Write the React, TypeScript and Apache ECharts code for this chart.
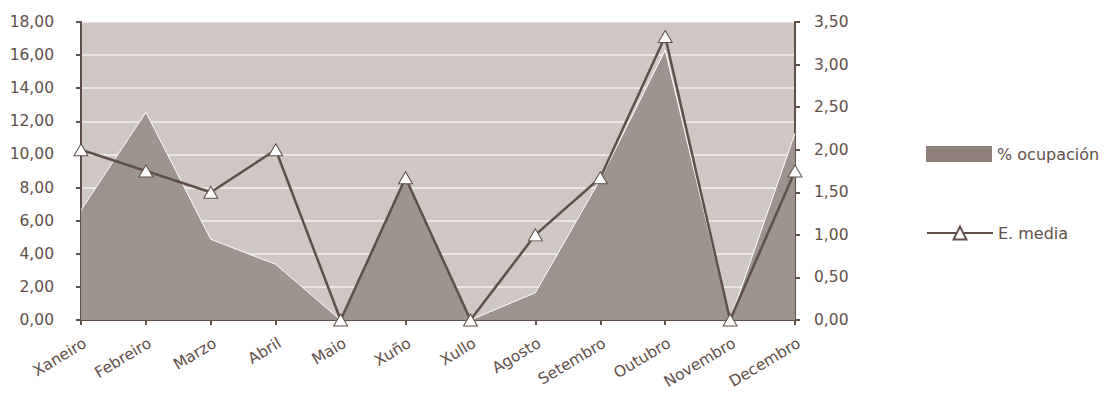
import React, { useEffect, useRef } from "react";
import * as echarts from "echarts";

const months = ["Xaneiro", "Febreiro", "Marzo", "Abril", "Maio", "Xuño", "Xullo", "Agosto", "Setembro", "Outubro", "Novembro", "Decembro"];
const ocupacion = [6.64, 12.55, 4.87, 3.36, 0, 8.6, 0, 1.65, 8.5, 16.3, 0, 11.28];
const media = [2.0, 1.75, 1.5, 2.0, 0, 1.67, 0, 1.0, 1.67, 3.33, 0, 1.75];

const AXIS = "#5f5049";
const TEXT = "#5f5049";
const FONT = "DejaVu Sans";
const fmt = (v: number) => v.toFixed(2).replace(".", ",");

export default function App() {
  const ref = useRef<HTMLDivElement>(null);
  useEffect(() => {
    if (!ref.current) return;
    const chart = echarts.init(ref.current, null, { renderer: "svg" });
    chart.setOption({
      animation: false,
      textStyle: { fontFamily: FONT },
      grid: {
        left: 81, right: 313, top: 22, bottom: 73,
        show: true, backgroundColor: "#cfc7c4", borderWidth: 0,
      },
      legend: [
        {
          data: [{ name: "% ocupación", icon: "rect", itemStyle: { color: "#8e817b", borderWidth: 0 } }],
          left: 921, top: 141, itemWidth: 66, itemHeight: 16, itemGap: 12,
          textStyle: { color: TEXT, fontSize: 16, fontFamily: FONT },
        },
        {
          data: ["E. media"],
          left: 921, top: 220, itemWidth: 66, itemHeight: 16,
          textStyle: { color: TEXT, fontSize: 16, fontFamily: FONT },
        },
      ],
      xAxis: {
        type: "category",
        data: months,
        boundaryGap: false,
        axisLine: { lineStyle: { color: AXIS, width: 2 } },
        axisTick: { show: true, length: 5, lineStyle: { color: AXIS, width: 2 } },
        axisLabel: {
          color: TEXT, fontSize: 15.5, rotate: 31, margin: 15, interval: 0,
          fontFamily: FONT, verticalAlign: "top",
        },
      },
      yAxis: [
        {
          type: "value", min: 0, max: 18, interval: 2,
          axisLine: { show: true, lineStyle: { color: AXIS, width: 2 } },
          axisTick: { show: true, length: 5, lineStyle: { color: AXIS, width: 2 } },
          axisLabel: { color: TEXT, fontSize: 15.5, margin: 27, formatter: fmt, fontFamily: FONT },
          splitLine: { show: true, lineStyle: { color: "#f4f1ef", width: 1.5 } },
        },
        {
          type: "value", min: 0, max: 3.5, interval: 0.5, position: "right",
          axisLine: { show: true, lineStyle: { color: AXIS, width: 2 } },
          axisTick: { show: true, length: 5, lineStyle: { color: AXIS, width: 2 } },
          axisLabel: { color: TEXT, fontSize: 15.5, margin: 19, formatter: fmt, fontFamily: FONT },
          splitLine: { show: false },
        },
      ],
      series: [
        {
          name: "% ocupación",
          type: "line",
          data: ocupacion,
          yAxisIndex: 0,
          symbol: "none",
          lineStyle: { color: "#ffffff", width: 1 },
          itemStyle: { color: "#8e817b" },
          areaStyle: { color: "#9d938f", opacity: 1 },
          z: 1,
        },
        {
          name: "E. media",
          type: "line",
          data: media,
          yAxisIndex: 1,
          symbol: "triangle",
          symbolSize: [14, 12],
          lineStyle: { color: AXIS, width: 2.5 },
          itemStyle: { color: "#ffffff", borderColor: AXIS, borderWidth: 1 },
          z: 3,
        },
      ],
    });
    return () => chart.dispose();
  }, []);
  return <div ref={ref} style={{ width: 1108, height: 393, position: "absolute", left: 0, top: 0 }} />;
}
